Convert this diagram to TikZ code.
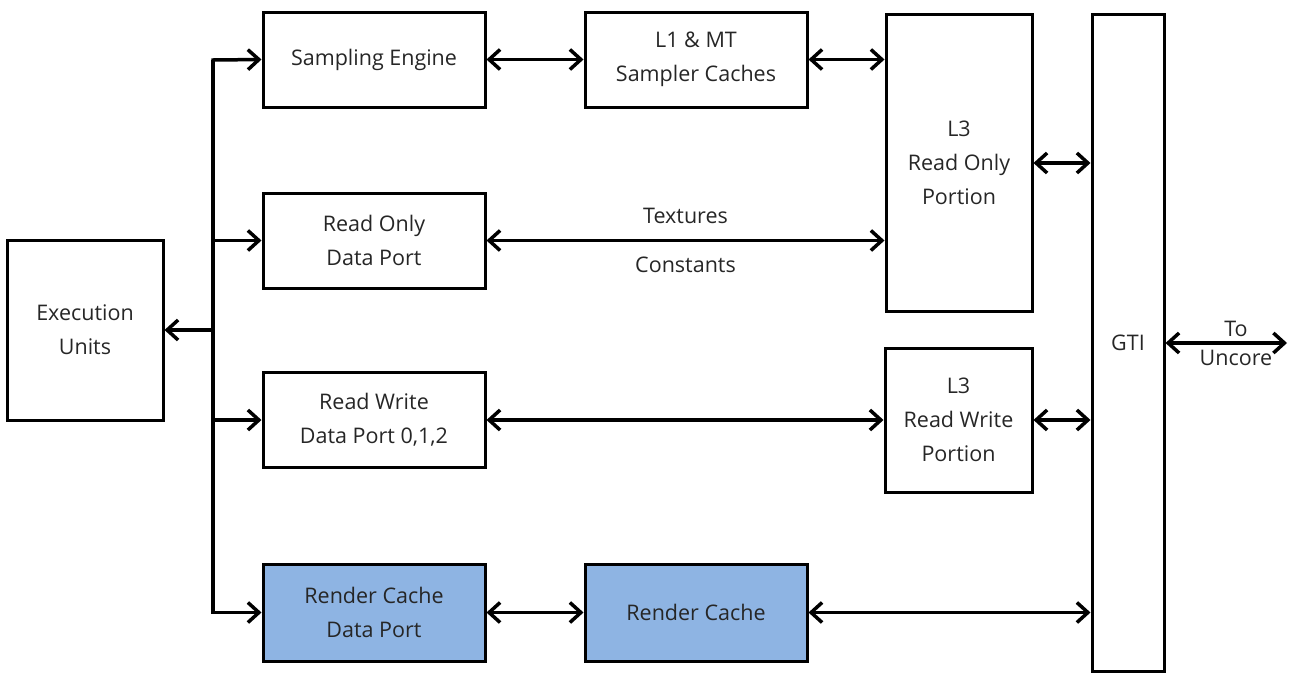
\documentclass[tikz,border=0pt]{standalone}
\usepackage{fontspec}
\setmainfont{Open Sans}
\usetikzlibrary{arrows.meta}
\definecolor{rcblue}{RGB}{142,180,227}

\begin{document}
\begin{tikzpicture}[x=1pt, y=-1pt,
  blk/.style={draw, line width=3pt, align=center, inner sep=0pt,
    font=\fontsize{21.5}{34}\selectfont, text=black!85},
  lnk/.style={line width=3.5pt, {Straight Barb[length=11pt,width=20pt]}-{Straight Barb[length=11pt,width=20pt]}},
  one/.style={line width=3.5pt, -{Straight Barb[length=11pt,width=20pt]}},
  lbl/.style={font=\fontsize{21.5}{34}\selectfont, text=black!85, align=center, inner sep=0pt}]
\useasboundingbox (0,0) rectangle (1291,673);
\node[blk, minimum width=156pt, minimum height=180pt] (exec) at (85,330) {Execution\\Units};
\node[blk, minimum width=222pt, minimum height=95pt] (samp) at (374,59.5) {Sampling Engine};
\node[blk, minimum width=222pt, minimum height=95pt] (lone) at (696,59.5) {L1 \& MT\\Sampler Caches};
\node[blk, minimum width=146pt, minimum height=297pt] (lthreero) at (959,163) {L3\\Read Only\\Portion};
\node[blk, minimum width=222pt, minimum height=95pt] (rodp) at (374,240.5) {Read Only\\Data Port};
\node[blk, minimum width=222pt, minimum height=95pt] (rwdp) at (374,420) {Read Write\\Data Port 0,1,2};
\node[blk, minimum width=147pt, minimum height=144pt] (lthreerw) at (958.5,420) {L3\\Read Write\\Portion};
\node[blk, fill=rcblue, minimum width=222pt, minimum height=97pt] (rcdp) at (374,612.5) {Render Cache\\Data Port};
\node[blk, fill=rcblue, minimum width=222pt, minimum height=97pt] (rc) at (696,612.5) {Render Cache};
\node[blk, minimum width=72pt, minimum height=657pt] (gti) at (1128,342.5) {GTI};
\coordinate (bus) at (213,60);
\coordinate (uncore) at (1287,343);
% bus from the execution units
\draw[one] (bus |- rcdp.west) -- (bus) -- (samp.west);
\draw[one] (bus) -- (bus |- rcdp.west) -- (rcdp.west);
\draw[one] (bus |- exec.east) -- (exec.east);
\draw[one] (bus |- rodp.west) -- (rodp.west);
\draw[one] (bus |- rwdp.west) -- (rwdp.west);
% links
\draw[lnk] (samp.east) -- (lone.west);
\draw[lnk] (lone.east) -- (lthreero.west |- lone.east);
\draw[lnk] (rodp.east) -- (lthreero.west |- rodp.east)
  node[lbl, midway, above=15pt] (tex) {Textures}
  node[lbl, midway, below=15pt] (const) {Constants};
\draw[lnk] (rwdp.east) -- (lthreerw.west |- rwdp.east);
\draw[lnk] (lthreero.east) -- (gti.west |- lthreero.east);
\draw[lnk] (lthreerw.east) -- (gti.west |- lthreerw.east);
\draw[lnk] (rcdp.east) -- (rc.west);
\draw[lnk] (rc.east) -- (gti.west |- rc.east);
\draw[lnk] (gti.east |- uncore) -- (uncore)
  node[lbl, pos=0.58, above=5pt] (to) {To}
  node[lbl, pos=0.58, below=5pt] (unc) {Uncore};
\end{tikzpicture}
\end{document}
